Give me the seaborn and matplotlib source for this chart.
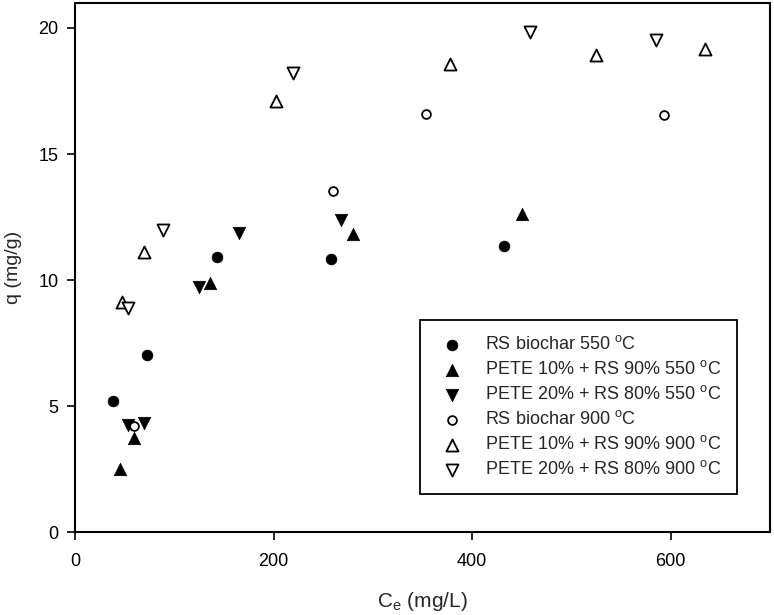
import matplotlib
matplotlib.use("Agg")
import matplotlib.pyplot as plt
import seaborn as sns
import pandas as pd

# ---- data ----
labels = [
    "RS biochar 550 $^{o}$C",
    "PETE 10% + RS 90% 550 $^{o}$C",
    "PETE 20% + RS 80% 550 $^{o}$C",
    "RS biochar 900 $^{o}$C",
    "PETE 10% + RS 90% 900 $^{o}$C",
    "PETE 20% + RS 80% 900 $^{o}$C",
]
rs550_x = [38.6, 72.2, 142.6, 257.4, 432.6]
rs550_y = [5.22, 7.03, 10.92, 10.83, 11.36]
p10_550_x = [45.3, 59.4, 136.0, 280.0, 450.0]
p10_550_y = [2.50, 3.72, 9.89, 11.83, 12.62]
p20_550_x = [53.7, 69.8, 125.2, 165.0, 268.4]
p20_550_y = [4.25, 4.32, 9.73, 11.85, 12.38]
rs900_x = [59.4, 260.0, 353.7, 593.0]
rs900_y = [4.22, 13.55, 16.59, 16.53]
p10_900_x = [47.6, 69.5, 202.0, 378.0, 525.0, 635.0]
p10_900_y = [9.14, 11.10, 17.09, 18.55, 18.92, 19.18]
p20_900_x = [53.0, 88.6, 219.8, 458.0, 585.0]
p20_900_y = [8.88, 11.99, 18.22, 19.82, 19.54]

xs = [rs550_x, p10_550_x, p20_550_x, rs900_x, p10_900_x, p20_900_x]
ys = [rs550_y, p10_550_y, p20_550_y, rs900_y, p10_900_y, p20_900_y]

x_ticks = [0, 200, 400, 600]
y_ticks = [0, 5, 10, 15, 20]

# ---- style ----
sns.set_style("ticks")
plt.rcParams["font.family"] = ["Liberation Sans", "DejaVu Sans"]
plt.rcParams["mathtext.fontset"] = "custom"
plt.rcParams["mathtext.rm"] = "Liberation Sans"
plt.rcParams["mathtext.it"] = "Liberation Sans"
plt.rcParams["mathtext.default"] = "regular"

fig = plt.figure(figsize=(7.74, 6.15), dpi=100)
ax = fig.add_axes([0.0969, 0.1345, 0.8979, 0.8611])

markers = ["o", "^", "v", "o", "^", "v"]
filled = [True, True, True, False, False, False]
sizes = [60, 80, 80, 40, 75, 75]

for lab, x, y, m, f, s in zip(labels, xs, ys, markers, filled, sizes):
    df = pd.DataFrame({"x": x, "y": y})
    sns.scatterplot(
        data=df, x="x", y="y", ax=ax, marker=m, s=s,
        color="black" if f else "white",
        edgecolor="black", linewidth=1.3 if not f else 0.5,
        label=lab, zorder=3,
    )

ax.set_xlim(0, 700)
ax.set_ylim(0, 21)
ax.set_xticks(x_ticks)
ax.set_yticks(y_ticks)
ax.tick_params(axis="both", which="major", direction="out", length=6, width=1.2,
               labelsize=13, color="black", labelcolor="black", pad=6)
ax.tick_params(axis="x", pad=9)
for sp in ax.spines.values():
    sp.set_linewidth(1.5)
    sp.set_color("black")
    sp.set_visible(True)

ax.set_xlabel("C$_{e}$ (mg/L)", fontsize=15, labelpad=14)
ax.set_ylabel("q (mg/g)", fontsize=14, labelpad=12)

leg = ax.legend(
    loc="upper left", bbox_to_anchor=(0.496, 0.401), fontsize=13,
    frameon=True, fancybox=False, edgecolor="black", framealpha=1,
    handletextpad=0.85, labelspacing=0.39, borderpad=0.85, handlelength=1.9,
    borderaxespad=0, markerscale=1.0,
)
leg.get_frame().set_linewidth(1.3)

fig.savefig("out.png", dpi=100)
